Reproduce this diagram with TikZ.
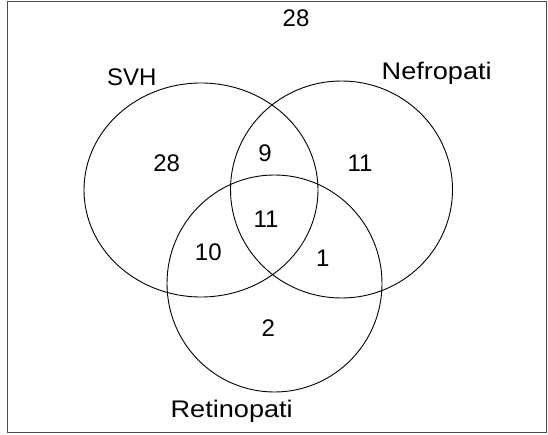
\documentclass[tikz,border=0pt]{standalone}
\usepackage{fontspec}
\setmainfont{Liberation Sans}
\usetikzlibrary{shapes.geometric}
\tikzset{
  setc/.style={ellipse, draw=black, line width=0.9pt, inner sep=0pt},
  lbl/.style={font=\fontsize{24}{27}\selectfont, inner sep=0pt, text=black},
  wide/.style={lbl, xscale=1.13, transform shape},
}
\begin{document}
\begin{tikzpicture}[x=1pt,y=-1pt]
\useasboundingbox (0,0) rectangle (548,435);
\draw[line width=1.6pt, gray!60!black] (7.5,1.5) rectangle (546.5,432.5);
\node[setc, minimum width=234pt, minimum height=214pt] (svh) at (201,190) {};
\node[setc, minimum width=222pt, minimum height=217pt] (nef) at (341.5,189.5) {};
\node[setc, minimum width=215pt, minimum height=217pt] (ret) at (274.5,283.5) {};
\node[lbl] (out) at (296,18.5) {28};
\node[lbl] (tsvh) at (131.7,77) {SVH};
\node[wide] (tnef) at (436.7,73) {Nefropati};
\node[wide] (tret) at (231.7,411) {Retinopati};
\node[lbl] (a) at (166.7,163.5) {28};
\node[lbl] (ab) at (265,153.5) {9};
\node[lbl] (b) at (360,163) {11};
\node[lbl] (abc) at (266,219.5) {11};
\node[lbl] (ac) at (208.3,252) {10};
\node[lbl] (bc) at (322.7,258.5) {1};
\node[lbl] (c) at (268.3,328.5) {2};
\end{tikzpicture}
\end{document}
